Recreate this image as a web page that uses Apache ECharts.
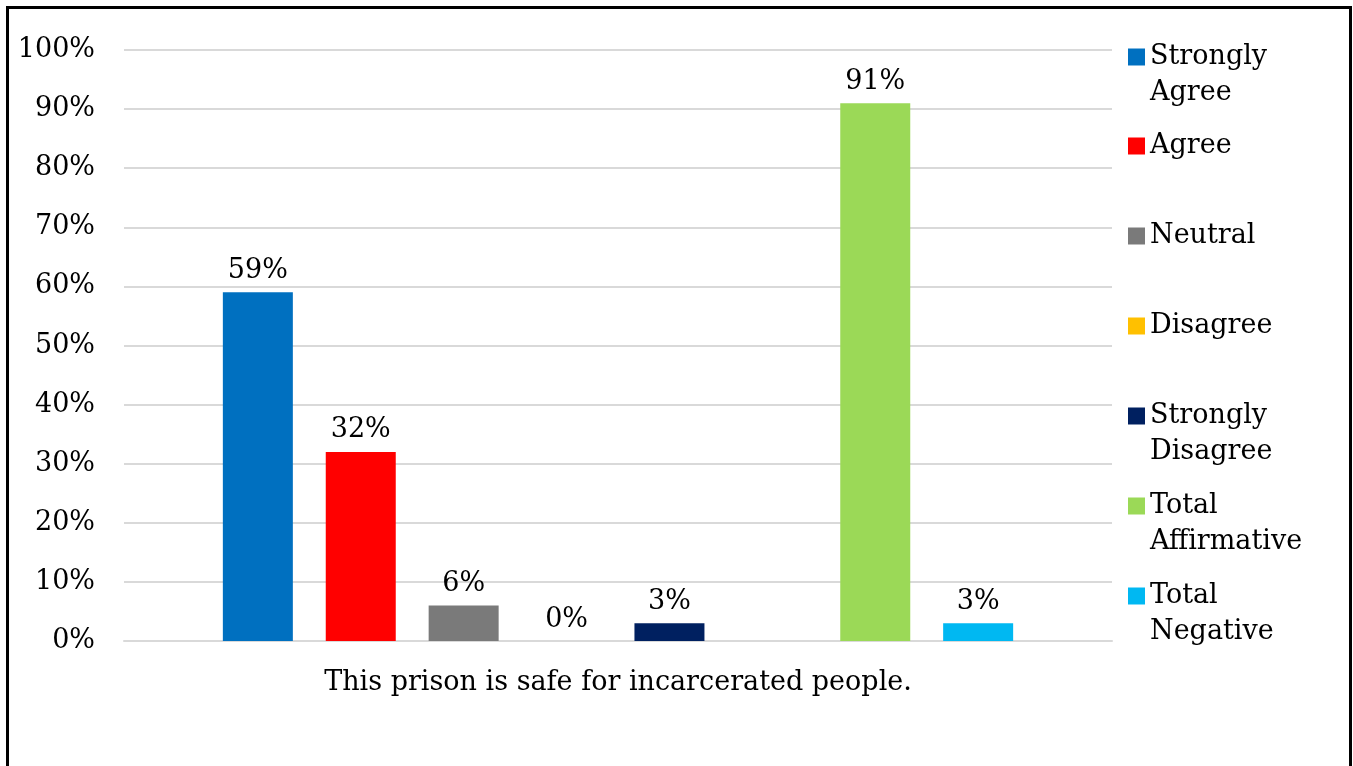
<!DOCTYPE html>
<html>
<head>
<meta charset="utf-8">
<script src="https://cdn.jsdelivr.net/npm/echarts@6/dist/echarts.min.js"></script>
<style>
html,body{margin:0;padding:0;background:#fff;overflow:hidden;}
#chart{width:1353px;height:766px;}
</style>
</head>
<body>
<div id="chart"></div>
<script>
// ---- data ----
const category = ['This prison is safe for incarcerated people.'];
const seriesNames = ['Strongly Agree', 'Agree', 'Neutral', 'Disagree', 'Strongly Disagree', '', 'Total Affirmative', 'Total Negative'];
const seriesValues = [59, 32, 6, 0, 3, null, 91, 3];
const legendLines = [['Strongly', 'Agree'], ['Agree', ''], ['Neutral', ''], ['Disagree', ''], ['Strongly', 'Disagree'], ['Total', 'Affirmative'], ['Total', 'Negative']];
const yTicks = { min: 0, max: 100, interval: 10 };

// ---- style ----
const colors = ['#0070C0', '#FF0000', '#7A7A7A', '#FFC000', '#002060', '#ffffff', '#9BD957', '#00B8F2'];
const FONT = 'DejaVu Serif';
const FS = 27;

const series = seriesNames.map((n, i) => ({
  name: n,
  type: 'bar',
  barWidth: 70,
  barGap: '47%',
  data: [seriesValues[i] === null ? '-' : seriesValues[i]],
  itemStyle: { color: colors[i] },
  label: {
    show: seriesValues[i] !== null,
    position: 'top',
    distance: 8,
    formatter: '{c}%',
    color: '#000',
    fontFamily: FONT,
    fontSize: FS
  },
  emphasis: { disabled: true }
}));

const legendCenters = [57, 146, 236, 326, 416, 506, 596];
const legendNames = seriesNames.filter(n => n !== '');
const legends = legendNames.map((n, i) => ({
  data: [n],
  orient: 'vertical',
  left: 1128,
  top: legendCenters[i] - 54,
  padding: 0,
  itemWidth: 17,
  itemHeight: 17,
  icon: 'rect',
  selectedMode: false,
  formatter: () => '\n' + legendLines[i][0] + '\n' + legendLines[i][1],
  textStyle: { fontFamily: FONT, fontSize: FS, color: '#000', lineHeight: 36 }
}));

const chart = echarts.init(document.getElementById('chart'));
chart.setOption({
  animation: false,
  backgroundColor: '#fff',
  graphic: [{
    type: 'rect',
    shape: { x: 7.5, y: 7.5, width: 1343, height: 820 },
    style: { fill: 'none', stroke: '#000', lineWidth: 3 },
    silent: true
  }],
  legend: legends,
  grid: { left: 124, right: 241, top: 50, bottom: 125 },
  xAxis: {
    type: 'category',
    data: category,
    axisLine: { show: true, lineStyle: { color: '#d9d9d9', width: 2 } },
    axisTick: { show: false },
    axisLabel: { color: '#000', fontFamily: FONT, fontSize: FS, margin: 28 }
  },
  yAxis: {
    type: 'value',
    min: yTicks.min,
    max: yTicks.max,
    interval: yTicks.interval,
    axisLine: { show: false },
    axisTick: { show: false },
    axisLabel: { color: '#000', fontFamily: FONT, fontSize: FS, margin: 29, formatter: '{value}%' },
    splitLine: { lineStyle: { color: '#d9d9d9', width: 2 } }
  },
  series: series
});
</script>
</body>
</html>
